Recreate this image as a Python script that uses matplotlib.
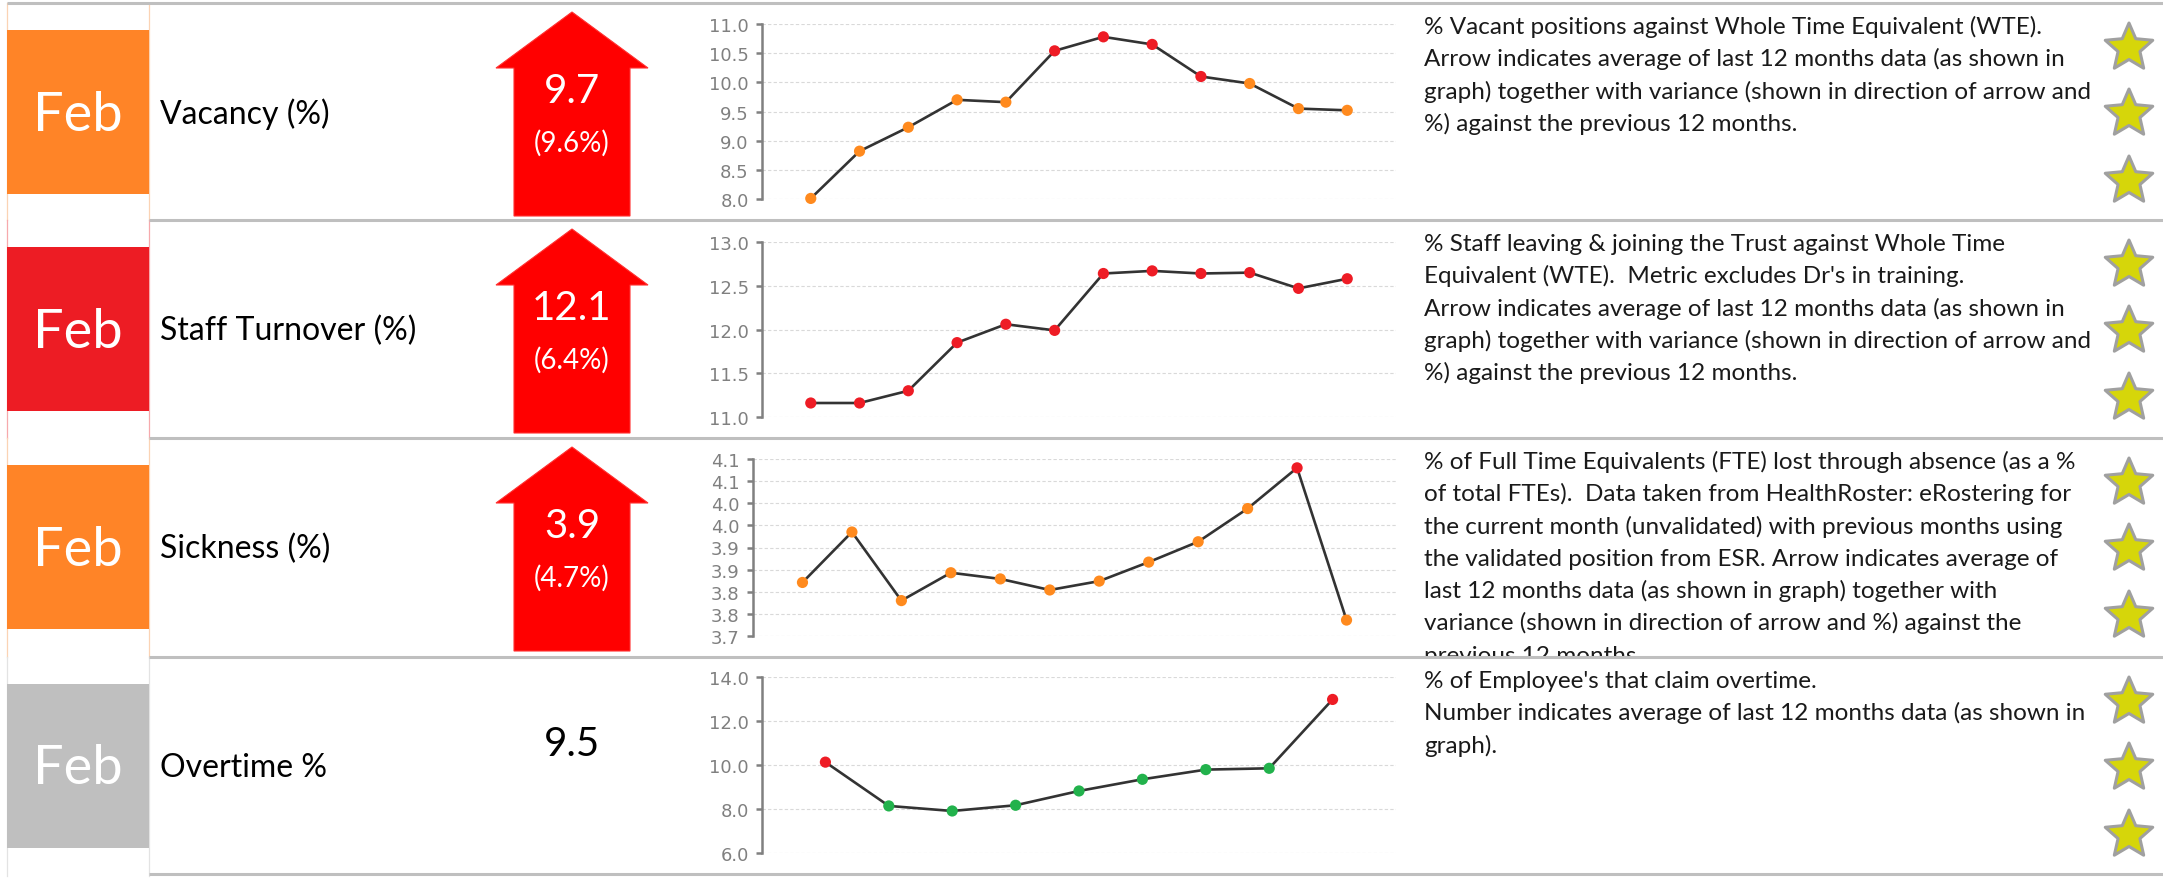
"""
Workforce KPI strip: four metric rows (Vacancy, Staff Turnover, Sickness,
Overtime) each with a RAG month box, a trend arrow, a 12-month sparkline
and a short description with star markers.
"""
import numpy as np
import matplotlib as mpl
import matplotlib.pyplot as plt
from matplotlib.patches import Polygon, Rectangle

W, H, DPI = 2163, 895, 100

mpl.rcParams.update({
    "font.family": ["Lato", "DejaVu Sans"],
    "axes.linewidth": 1.8,
})

# ---- data -------------------------------------------------------------
month = "Feb"
metrics = ["Vacancy (%)", "Staff Turnover (%)", "Sickness (%)", "Overtime %"]
status = ["amber", "red", "amber", "none"]
averages = ["9.7", "12.1", "3.9", "9.5"]
variances = ["(9.6%)", "(6.4%)", "(4.7%)", ""]
has_arrow = [True, True, True, False]

vacancy = [8.01, 8.82, 9.23, 9.70, 9.66, 10.54, 10.78, 10.65, 10.10, 9.98, 9.55, 9.52]
vacancy_rag = ["A", "A", "A", "A", "A", "R", "R", "R", "R", "A", "A", "A"]

turnover = [11.16, 11.16, 11.30, 11.85, 12.06, 11.99, 12.64, 12.67, 12.64, 12.65, 12.47, 12.58]
turnover_rag = ["R", "R", "R", "R", "R", "R", "R", "R", "R", "R", "R", "R"]

sickness = [3.821, 3.935, 3.780, 3.843, 3.829, 3.804, 3.824, 3.867, 3.913, 3.988, 4.080, 3.736]
sickness_rag = ["A", "A", "A", "A", "A", "A", "A", "A", "A", "A", "R", "A"]

overtime = [10.13, 8.14, 7.91, 8.17, 8.82, 9.35, 9.79, 9.85, 12.98]
overtime_rag = ["R", "G", "G", "G", "G", "G", "G", "G", "R"]

vacancy_ticks = [8.0, 8.5, 9.0, 9.5, 10.0, 10.5, 11.0]
turnover_ticks = [11.0, 11.5, 12.0, 12.5, 13.0]
sickness_ticks = [3.70, 3.75, 3.80, 3.85, 3.90, 3.95, 4.00, 4.05, 4.10]
sickness_tick_labels = ["3.7", "3.8", "3.8", "3.9", "3.9", "4.0", "4.0", "4.1", "4.1"]
overtime_ticks = [6.0, 8.0, 10.0, 12.0, 14.0]

descriptions = [
    ["% Vacant positions against Whole Time Equivalent (WTE).",
     "Arrow indicates average of last 12 months data (as shown in",
     "graph) together with variance (shown in direction of arrow and",
     "%) against the previous 12 months."],
    ["% Staff leaving & joining the Trust against Whole Time",
     "Equivalent (WTE).  Metric excludes Dr's in training.",
     "Arrow indicates average of last 12 months data (as shown in",
     "graph) together with variance (shown in direction of arrow and",
     "%) against the previous 12 months."],
    ["% of Full Time Equivalents (FTE) lost through absence (as a %",
     "of total FTEs).  Data taken from HealthRoster: eRostering for",
     "the current month (unvalidated) with previous months using",
     "the validated position from ESR. Arrow indicates average of",
     "last 12 months data (as shown in graph) together with",
     "variance (shown in direction of arrow and %) against the",
     "previous 12 months."],
    ["% of Employee's that claim overtime.",
     "Number indicates average of last 12 months data (as shown in",
     "graph)."],
]

# ---- styling ------------------------------------------------------------
BOX_COLOUR = {"amber": "#FF8427", "red": "#ED1C24", "none": "#BFBFBF"}
BORDER_COLOUR = {"amber": "#FBD3B4", "red": "#F7A9AC", "none": "#E3E3E3"}
DOT_COLOUR = {"A": "#FF8A1E", "R": "#EE1C25", "G": "#22B24C"}
ARROW_RED = "#FF0000"
DIVIDER = "#BFBFBF"
AXIS_GREY = "#808080"

ROW_TOPS = [4, 221, 439, 658]
ROW_BOTTOM = 875
COL_L, COL_R = 7, 149

fig = plt.figure(figsize=(W / DPI, H / DPI), dpi=DPI)
fig.patch.set_facecolor("white")

# full-figure canvas in pixel units (y pointing down)
cv = fig.add_axes([0, 0, 1, 1])
cv.set_xlim(0, W)
cv.set_ylim(H, 0)
cv.axis("off")

row_bottoms = ROW_TOPS[1:] + [ROW_BOTTOM]

# dividers
cv.plot([COL_L, W], [ROW_TOPS[0], ROW_TOPS[0]], color=DIVIDER, lw=2.2,
        solid_capstyle="butt", zorder=5)
for y in ROW_TOPS[1:] + [ROW_BOTTOM]:
    cv.plot([COL_R, W], [y, y], color=DIVIDER, lw=2.2,
            solid_capstyle="butt", zorder=5)


def star_xy(cx, cy, r_out, r_in):
    ang = np.pi / 2 + np.arange(10) * np.pi / 5
    rad = np.where(np.arange(10) % 2 == 0, r_out, r_in)
    return np.column_stack([cx + rad * np.cos(ang), cy - rad * np.sin(ang)])


for i, top in enumerate(ROW_TOPS):
    bot = row_bottoms[i]
    key = status[i]

    # month cell borders and RAG box
    for x in (COL_L, COL_R):
        cv.plot([x, x], [top, bot + (2 if i == 3 else 0)],
                color=BORDER_COLOUR[key], lw=0.9, zorder=1)
    cv.add_patch(Rectangle((COL_L, top + 27), COL_R - COL_L, 164,
                           facecolor=BOX_COLOUR[key], edgecolor="none", zorder=2))
    cv.text((COL_L + COL_R) / 2, top + 111, month, color="white",
            fontsize=39, ha="center", va="center", zorder=3)

    # metric name
    cv.text(160, top + 110, metrics[i], color="black", fontsize=23,
            ha="left", va="center", zorder=3)

    # trend arrow with average and variance
    cx = 572
    if has_arrow[i]:
        pts = [(cx, top + 9), (cx + 76, top + 65), (cx + 58, top + 65),
               (cx + 58, top + 213), (cx - 58, top + 213), (cx - 58, top + 65),
               (cx - 76, top + 65)]
        cv.add_patch(Polygon(pts, closed=True, facecolor=ARROW_RED,
                             edgecolor="#FF3030", lw=0.8, zorder=2))
        cv.text(cx, top + 87, averages[i], color="white", fontsize=29,
                ha="center", va="center", zorder=3)
        cv.text(cx, top + 139, variances[i], color="white", fontsize=20,
                ha="center", va="center", zorder=3)
    else:
        cv.text(cx, top + 86, averages[i], color="black", fontsize=29,
                ha="center", va="center", zorder=3)

    # description text, clipped to the row
    clip = Rectangle((1400, top + 2), 700, bot - top - 3, transform=cv.transData)
    for j, line in enumerate(descriptions[i]):
        t = cv.text(1424, top + 30 + j * 32.3, line, color="#1A1A1A",
                    fontsize=17.5, ha="left", va="baseline", zorder=3)
        t.set_clip_path(clip)
        t.set_clip_on(True)

    # star markers
    for dy in (45, 111, 178):
        cv.add_patch(Polygon(star_xy(2129, top + dy, 25, 11.5), closed=True,
                             facecolor="#D6D60A", edgecolor="#A0A0A0",
                             lw=2.2, joinstyle="round", zorder=3))

# ---- sparklines ---------------------------------------------------------
series = [
    (vacancy, vacancy_rag, vacancy_ticks, None, 762, 25, 200),
    (turnover, turnover_rag, turnover_ticks, None, 762, 243, 418),
    (sickness, sickness_rag, sickness_ticks, sickness_tick_labels, 753, 460, 637),
    (overtime, overtime_rag, overtime_ticks, None, 762, 678, 854),
]
CHART_RIGHT = 1396

for values, rag, ticks, labels, left, top, bottom in series:
    ax = fig.add_axes([left / W, 1 - bottom / H, (CHART_RIGHT - left) / W,
                       (bottom - top) / H])
    ax.set_facecolor("none")
    x = np.arange(len(values))
    ax.set_xlim(-1, len(values))
    ax.set_ylim(ticks[0], ticks[-1])
    ax.set_yticks(ticks)
    if labels is None:
        ax.set_yticklabels([f"{t:.1f}" for t in ticks])
    else:
        ax.set_yticklabels(labels)
    ax.set_xticks([])
    for side in ("top", "right", "bottom"):
        ax.spines[side].set_visible(False)
    ax.spines["left"].set_color(AXIS_GREY)
    ax.tick_params(axis="y", colors=AXIS_GREY, length=4.5, width=1.8, pad=5,
                   labelsize=13)
    for lab in ax.get_yticklabels():
        lab.set_fontfamily(["DejaVu Sans"])
    ax.grid(axis="y", color="#D9D9D9", linestyle=(0, (3, 2)), linewidth=0.8)
    ax.set_axisbelow(True)
    ax.plot(x, values, color="#333333", lw=1.9, zorder=3, clip_on=False)
    ax.scatter(x, values, s=65, c=[DOT_COLOUR[r] for r in rag],
               edgecolors="none", zorder=4, clip_on=False)

fig.savefig("out.png", dpi=DPI, facecolor="white")
